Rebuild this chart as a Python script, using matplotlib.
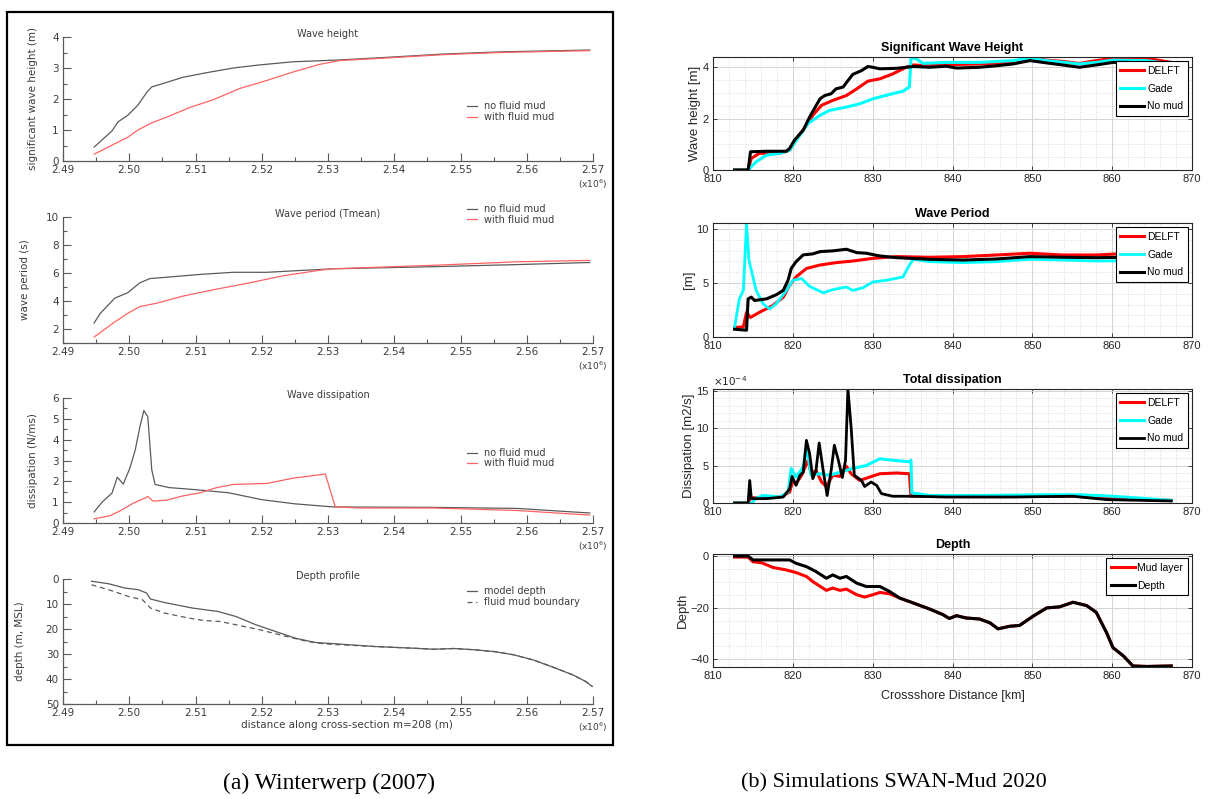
import numpy as np
import matplotlib
matplotlib.use("Agg")
import matplotlib.pyplot as plt
from matplotlib import font_manager
from matplotlib.patches import Rectangle
from matplotlib.ticker import MultipleLocator, FuncFormatter

# ---------------- (a) Winterwerp (2007): distance in units of 1e6 m ----------------
hs_x_nomud = np.array([2.4947, 2.4974, 2.4983, 2.4998, 2.5013, 2.5027, 2.5034, 2.5051, 2.5081,
                       2.5117, 2.5157, 2.5197, 2.5247, 2.5318, 2.5394, 2.5474, 2.5560, 2.5695]) * 1e6
hs_nomud = [0.45, 0.97, 1.26, 1.48, 1.80, 2.23, 2.39, 2.50, 2.70,
            2.85, 3.00, 3.10, 3.20, 3.26, 3.35, 3.45, 3.52, 3.58]
hs_x_mud = np.array([2.4947, 2.4971, 2.4998, 2.5013, 2.5034, 2.5057, 2.5092, 2.5126, 2.5167,
                     2.5208, 2.5247, 2.5288, 2.5318, 2.5394, 2.5474, 2.5560, 2.5695]) * 1e6
hs_mud = [0.22, 0.48, 0.77, 1.00, 1.23, 1.42, 1.73, 1.97, 2.34,
          2.60, 2.87, 3.12, 3.24, 3.33, 3.43, 3.50, 3.56]

tp_x_nomud = np.array([2.4947, 2.4956, 2.4978, 2.4998, 2.5016, 2.5031, 2.5057, 2.5107, 2.5157,
                       2.5208, 2.5258, 2.5308, 2.5459, 2.5585, 2.5695]) * 1e6
tp_nomud = [2.43, 3.10, 4.20, 4.60, 5.30, 5.60, 5.70, 5.90, 6.05, 6.05, 6.18, 6.30, 6.45, 6.60, 6.75]
tp_x_mud = np.array([2.4947, 2.4975, 2.4997, 2.5016, 2.5042, 2.5081, 2.5132, 2.5182, 2.5232,
                     2.5288, 2.5308, 2.5459, 2.5585, 2.5695]) * 1e6
tp_mud = [1.43, 2.40, 3.10, 3.60, 3.85, 4.35, 4.85, 5.30, 5.80, 6.20, 6.30, 6.55, 6.80, 6.90]

ds_x_nomud = np.array([2.4947, 2.4959, 2.4974, 2.4982, 2.4991, 2.5001, 2.5009, 2.5016, 2.5022,
                       2.5028, 2.5034, 2.5039, 2.5060, 2.5100, 2.5150, 2.5200, 2.5250, 2.5308,
                       2.5459, 2.5585, 2.5695]) * 1e6
ds_nomud = [0.53, 1.00, 1.44, 2.20, 1.87, 2.64, 3.50, 4.60, 5.40, 5.10, 2.55, 1.85, 1.70, 1.60,
            1.45, 1.12, 0.92, 0.77, 0.75, 0.70, 0.48]
ds_x_mud = np.array([2.4947, 2.4971, 2.4986, 2.5006, 2.5022, 2.5028, 2.5036, 2.5057, 2.5081,
                     2.5107, 2.5132, 2.5157, 2.5208, 2.5247, 2.5296, 2.5311, 2.5349, 2.5459,
                     2.5585, 2.5695]) * 1e6
ds_mud = [0.20, 0.35, 0.58, 0.95, 1.17, 1.27, 1.05, 1.10, 1.30, 1.45, 1.70, 1.85, 1.90, 2.15,
          2.35, 0.77, 0.72, 0.72, 0.60, 0.38]

dp_x = np.array([2.4943, 2.4969, 2.4993, 2.5014, 2.5026, 2.5032, 2.5053, 2.5095, 2.5134, 2.5161,
                 2.5191, 2.5221, 2.5251, 2.5281, 2.5311, 2.5370, 2.5430, 2.5460, 2.5490, 2.5520,
                 2.5550, 2.5580, 2.5610, 2.5640, 2.5670, 2.5689, 2.5699]) * 1e6
dp_model = [0.9, 1.9, 3.6, 4.3, 5.6, 8.0, 9.4, 11.6, 13.0, 15.0, 18.3, 21.0, 23.7, 25.4, 25.9,
            27.0, 27.7, 28.1, 27.8, 28.3, 29.0, 30.3, 32.4, 35.3, 38.4, 41.0, 43.0]
dp_x_mud = np.array([2.4943, 2.4969, 2.4999, 2.5020, 2.5032, 2.5053, 2.5089, 2.5113, 2.5137,
                     2.5161, 2.5197, 2.5233, 2.5269, 2.5293, 2.5311]) * 1e6
dp_mud = [2.3, 4.3, 7.0, 8.3, 11.6, 13.6, 15.6, 16.6, 17.0, 18.3, 20.3, 22.7, 25.0, 25.9, 26.2]

# ---------------- (b) SWAN-Mud 2020: crosshore distance in km ----------------
hs_km_nomud = [812.7, 814.4, 814.7, 816.7, 819.2, 819.6, 820.2, 821.3, 822.1, 822.7, 823.4, 824.0,
               824.8, 825.4, 826.3, 826.9, 827.5, 828.6, 829.4, 830.0, 830.9, 833.0, 835.1, 837.1,
               839.2, 840.5, 843.4, 845.5, 847.6, 849.7, 851.8, 853.8, 855.9, 858.0, 860.1, 862.2,
               867.4]
hs_b_nomud = [0, 0, 0.71, 0.73, 0.73, 0.84, 1.16, 1.55, 2.06, 2.39, 2.77, 2.90, 2.97, 3.16, 3.23,
              3.48, 3.72, 3.87, 4.03, 4.00, 3.94, 3.96, 4.03, 4.00, 4.04, 3.97, 4.00, 4.06, 4.13,
              4.26, 4.17, 4.09, 4.00, 4.09, 4.19, 4.19, 4.09]
hs_km_delft = [812.7, 814.4, 814.8, 815.8, 818.4, 819.6, 820.4, 821.7, 822.5, 823.6, 825.0, 826.7,
               828.0, 829.4, 830.9, 832.5, 834.2, 835.1, 837.1, 839.2, 843.4, 847.6, 849.7, 851.8,
               853.8, 855.9, 858.0, 860.1, 864.3, 867.4]
hs_b_delft = [0, 0, 0.45, 0.65, 0.65, 0.77, 1.19, 1.74, 2.13, 2.52, 2.71, 2.90, 3.16, 3.46, 3.55,
              3.74, 4.00, 4.09, 4.06, 4.10, 4.13, 4.19, 4.36, 4.28, 4.23, 4.15, 4.26, 4.35, 4.35,
              4.19]
hs_km_gade = [812.7, 814.4, 815.4, 816.7, 818.4, 819.6, 820.6, 821.9, 823.4, 824.6, 826.7, 828.4,
              830.0, 832.1, 833.8, 834.6, 834.8, 835.5, 836.3, 839.2, 843.4, 847.6, 849.7, 851.8,
              855.9, 858.0, 860.1, 864.3, 867.4]
hs_b_gade = [0, 0, 0.32, 0.58, 0.65, 0.77, 1.23, 1.81, 2.13, 2.32, 2.45, 2.58, 2.77, 2.94, 3.07,
             3.23, 4.39, 4.32, 4.15, 4.19, 4.19, 4.26, 4.35, 4.26, 4.13, 4.19, 4.28, 4.26, 4.13]

tp_km_nomud = [812.7, 814.2, 814.4, 814.8, 815.2, 816.7, 817.9, 818.8, 819.4, 819.8, 820.4, 821.3,
               822.5, 823.4, 825.0, 826.7, 828.0, 829.2, 830.9, 833.0, 837.1, 841.3, 845.5, 849.7,
               853.8, 858.0, 862.2, 867.4]
tp_b_nomud = [0.72, 0.63, 3.53, 3.69, 3.38, 3.53, 3.90, 4.31, 5.25, 6.34, 6.97, 7.60, 7.69, 7.90,
              7.97, 8.12, 7.81, 7.75, 7.50, 7.34, 7.19, 7.12, 7.22, 7.44, 7.38, 7.34, 7.38, 7.40]
tp_km_delft = [812.7, 813.8, 814.2, 814.7, 815.8, 817.5, 818.8, 819.6, 820.4, 821.7, 823.4, 825.4,
               827.5, 830.0, 833.0, 837.1, 841.3, 845.5, 849.7, 853.8, 858.0, 862.2, 867.4]
tp_b_delft = [0.88, 0.94, 2.28, 1.81, 2.28, 2.91, 3.69, 4.78, 5.56, 6.34, 6.66, 6.88, 7.03, 7.28,
              7.44, 7.38, 7.44, 7.59, 7.75, 7.59, 7.59, 7.75, 7.75]
tp_km_gade = [812.7, 813.3, 813.8, 814.2, 814.5, 814.8, 815.4, 816.3, 817.1, 817.9, 819.2, 820.0,
              821.1, 822.1, 823.8, 825.0, 826.7, 827.5, 828.8, 830.0, 831.7, 833.8, 834.6, 835.1,
              837.1, 841.3, 845.5, 849.7, 853.8, 858.0, 862.2, 867.4]
tp_b_gade = [0.88, 3.53, 4.31, 10.5, 7.12, 6.19, 4.31, 3.06, 2.59, 3.06, 4.31, 5.25, 5.41, 4.69,
             4.09, 4.38, 4.63, 4.31, 4.56, 5.09, 5.25, 5.56, 6.66, 7.19, 6.97, 6.88, 6.97, 7.19,
             7.12, 7.03, 7.06, 7.00]

# total dissipation in m2/s
ds_km_nomud = [812.7, 814.4, 814.6, 814.8, 816.7, 818.8, 819.6, 819.9, 820.4, 820.9, 821.3, 821.7,
               822.1, 822.5, 822.9, 823.3, 823.8, 824.3, 824.8, 825.2, 825.7, 826.2, 826.6, 826.9,
               827.3, 827.7, 828.6, 829.0, 829.8, 830.5, 831.1, 832.5, 835.1, 839.2, 847.6, 855.1,
               859.3, 867.4]
ds_b_nomud = np.array([0, 0, 3.0, 0.58, 0.58, 0.8, 1.9, 3.55, 2.35, 3.7, 4.1, 8.35, 6.6, 3.25,
                       4.35, 8.0, 4.35, 1.0, 4.35, 7.7, 5.7, 3.4, 5.7, 15.2, 10.1, 3.7, 3.0, 2.2,
                       2.8, 2.35, 1.25, 0.9, 0.9, 0.8, 0.8, 0.9, 0.45, 0.27]) * 1e-4
ds_km_delft = [812.7, 814.4, 814.7, 815.4, 818.4, 819.6, 820.0, 820.4, 821.1, 821.9, 822.3, 822.9,
               823.6, 824.2, 825.0, 825.9, 826.7, 827.3, 828.4, 829.6, 830.9, 833.0, 834.6, 834.8,
               839.2, 847.6, 855.1, 860.0, 867.4]
ds_b_delft = np.array([0, 0, 0.7, 0.7, 0.8, 1.45, 3.0, 2.6, 3.7, 5.7, 3.9, 4.35, 2.8, 2.2, 3.7,
                       3.55, 4.9, 3.9, 3.0, 3.45, 3.9, 4.0, 3.9, 0.9, 0.85, 0.85, 0.9, 0.6,
                       0.35]) * 1e-4
ds_km_gade = [812.7, 814.9, 815.3, 816.3, 818.4, 819.4, 819.8, 820.4, 821.3, 821.7, 822.3, 823.4,
              824.6, 825.9, 827.5, 829.2, 830.9, 832.5, 834.6, 834.8, 834.9, 837.1, 843.4, 851.8,
              855.9, 860.1, 867.4]
ds_b_gade = np.array([0, 0, 0.6, 1.0, 0.8, 1.45, 4.6, 3.45, 4.8, 7.5, 3.7, 3.9, 3.7, 4.1, 4.6,
                      5.0, 5.9, 5.7, 5.5, 5.7, 1.35, 1.0, 1.0, 1.1, 1.1, 0.9, 0.35]) * 1e-4

dp_km = np.array([812.7, 814.4, 815.0, 816.7, 819.6, 820.4, 821.7, 822.9, 824.2, 825.0, 825.9,
                  826.7, 828.0, 829.2, 830.9, 832.1, 833.4, 835.1, 837.1, 838.8, 839.6, 840.5,
                  841.7, 843.4, 844.7, 845.7, 847.2, 848.4, 850.1, 851.8, 853.4, 855.1, 856.8,
                  858.0, 859.3, 860.1, 861.4, 862.6, 864.3, 867.4])
dp_depth = np.array([0, 0, -1.5, -1.5, -1.5, -2.8, -4.1, -6.0, -8.6, -7.3, -8.6, -7.9, -10.5,
                     -11.8, -11.8, -13.7, -16.3, -18.2, -20.5, -22.7, -24.2, -23.1, -24.0, -24.4,
                     -25.9, -28.2, -27.2, -26.9, -23.3, -20.1, -19.7, -17.9, -19.2, -21.8, -29.7,
                     -35.5, -38.7, -42.6, -42.8, -42.6])
dp_km_mud = np.array([812.7, 814.4, 815.0, 816.1, 817.5, 819.2, 820.4, 821.7, 822.5, 824.2, 825.0,
                      825.9, 826.7, 828.0, 829.0, 830.0, 830.9, 832.1, 833.4, 835.1])
dp_mudlayer = np.array([-0.4, -0.4, -2.2, -2.6, -4.4, -5.4, -6.4, -7.9, -9.9, -13.3, -12.4,
                        -13.3, -12.8, -15.0, -15.9, -15.0, -14.1, -14.6, -16.3, -18.2])

# seaward of 835 km the mud layer lies on the bed
tail = dp_km > dp_km_mud[-1]
dp_km_mud = np.concatenate([dp_km_mud, dp_km[tail]])
dp_mudlayer = np.concatenate([dp_mudlayer, dp_depth[tail]])
# the fluid mud boundary merges with the model depth beyond 2.531e6 m
tail_a = dp_x > dp_x_mud[-1]
dp_x_mud = np.concatenate([dp_x_mud, dp_x[tail_a]])
dp_mud = np.concatenate([dp_mud, np.array(dp_model)[tail_a]])

names = {f.name for f in font_manager.fontManager.ttflist}
SANS = "Liberation Sans Narrow" if "Liberation Sans Narrow" in names else "Liberation Sans"
SERIF = "Liberation Serif"

GRAY_TXT = "#3c3c3c"
GRAY_LINE = "#5a5a5a"
RED_LINE = "#ff6262"

W, H = 1211, 799
fig = plt.figure(figsize=(W / 100, H / 100), dpi=100)


def px_axes(x0, y0, x1, y1):
    return fig.add_axes([x0 / W, 1 - y1 / H, (x1 - x0) / W, (y1 - y0) / H])


def style_left(ax, ylim, major, minor, ylabel, title, label_x):
    ax.set_xlim(2.49e6, 2.57e6)
    ax.set_ylim(*ylim)
    for s in ("top", "right"):
        ax.spines[s].set_visible(False)
    for s in ("left", "bottom"):
        ax.spines[s].set_color(GRAY_LINE)
        ax.spines[s].set_linewidth(0.9)
    ax.xaxis.set_major_locator(MultipleLocator(1e4))
    ax.xaxis.set_minor_locator(MultipleLocator(5e3))
    ax.xaxis.set_major_formatter(FuncFormatter(lambda v, p: f"{v / 1e6:.2f}"))
    ax.yaxis.set_major_locator(MultipleLocator(major))
    ax.yaxis.set_minor_locator(MultipleLocator(minor))
    ax.tick_params(which="both", direction="in", color=GRAY_LINE, labelcolor=GRAY_TXT,
                   labelsize=7.5, width=0.8)
    ax.tick_params(which="major", length=6, pad=3)
    ax.tick_params(which="minor", length=3)
    ax.set_ylabel(ylabel, fontsize=7.5, color=GRAY_TXT)
    ax.yaxis.set_label_coords(label_x, 0.5)
    ax.text(0.5, 1.025, title, transform=ax.transAxes, ha="center", va="center",
            fontsize=7, color=GRAY_TXT)
    ax.annotate("(x10$^6$)", xy=(1, 0), xycoords="axes fraction", xytext=(0, -12),
                textcoords="offset points", ha="center", va="top", fontsize=6.5,
                color=GRAY_TXT)


def left_legend(ax, anchor, labels):
    leg = ax.legend(labels, loc="upper left", bbox_to_anchor=anchor, frameon=False,
                    fontsize=7, handlelength=1.0, handletextpad=0.7, labelspacing=0.05,
                    borderpad=0, borderaxespad=0)
    for t in leg.get_texts():
        t.set_color(GRAY_TXT)


# ---- panel (a) ----
a1 = px_axes(63, 37, 593, 161)
a1.plot(hs_x_nomud, hs_nomud, color=GRAY_LINE, lw=0.9)
a1.plot(hs_x_mud, hs_mud, color=RED_LINE, lw=0.9)
style_left(a1, (0, 4), 1, 0.5, "significant wave height (m)", "Wave height", -0.047)
left_legend(a1, (0.763, 0.48), ["no fluid mud", "with fluid mud"])

a2 = px_axes(63, 217, 593, 343)
a2.plot(tp_x_nomud, tp_nomud, color=GRAY_LINE, lw=0.9)
a2.plot(tp_x_mud, tp_mud, color=RED_LINE, lw=0.9)
style_left(a2, (1, 10), 2, 1, "wave period (s)", "Wave period (Tmean)", -0.062)
left_legend(a2, (0.763, 1.10), ["no fluid mud", "with fluid mud"])

a3 = px_axes(63, 398, 593, 523)
a3.plot(ds_x_nomud, ds_nomud, color=GRAY_LINE, lw=0.9)
a3.plot(ds_x_mud, ds_mud, color=RED_LINE, lw=0.9)
style_left(a3, (0, 6), 1, 0.5, "dissipation (N/ms)", "Wave dissipation", -0.047)
left_legend(a3, (0.763, 0.60), ["no fluid mud", "with fluid mud"])

a4 = px_axes(63, 579, 593, 704)
a4.plot(dp_x, dp_model, color=GRAY_LINE, lw=0.9)
a4.plot(dp_x_mud, dp_mud, color=GRAY_LINE, lw=0.9, ls=(0, (4, 3)))
style_left(a4, (50, 0), 10, 5, "depth (m, MSL)", "Depth profile", -0.072)
a4.set_xlabel("distance along cross-section m=208 (m)", fontsize=7.5, color=GRAY_TXT)
a4.xaxis.set_label_coords(0.535, -0.13)
left_legend(a4, (0.763, 0.94), ["model depth", "fluid mud boundary"])

fig.add_artist(Rectangle((7 / W, 1 - 745 / H), 606 / W, 733 / H, transform=fig.transFigure,
                         fill=False, lw=1.6, ec="black"))

# ---- panel (b) ----
COLORS = {"DELFT": "#ff0000", "Gade": "#00ffff", "No mud": "#000000"}


def style_right(ax, ylim, major, minor, ylabel, title):
    ax.set_xlim(810, 870)
    ax.set_ylim(*ylim)
    ax.xaxis.set_major_locator(MultipleLocator(10))
    ax.xaxis.set_minor_locator(MultipleLocator(2))
    ax.yaxis.set_major_locator(MultipleLocator(major))
    ax.yaxis.set_minor_locator(MultipleLocator(minor))
    ax.set_axisbelow(True)
    ax.grid(which="major", color="#d4d4d4", lw=0.7)
    ax.grid(which="minor", color="#d0d0d0", lw=0.6, ls=(0, (1, 2)))
    ax.tick_params(which="both", direction="in", top=True, right=True, labelsize=8,
                   labelcolor="#262626", color="#262626", width=0.6)
    ax.tick_params(which="major", length=3, pad=3)
    ax.tick_params(which="minor", length=0)
    for s in ax.spines.values():
        s.set_linewidth(0.8)
        s.set_color("#262626")
    for lab in ax.get_xticklabels() + ax.get_yticklabels():
        lab.set_family(SANS)
    ax.set_ylabel(ylabel, fontsize=9.5, family=SANS, color="#262626", labelpad=1)
    ax.set_title(title, fontsize=9, fontweight="bold", family=SANS, pad=4)


def right_legend(ax):
    leg = ax.legend(loc="upper right", fancybox=False, edgecolor="black", framealpha=1,
                    prop={"family": SANS, "size": 7.5}, handlelength=2.3, handletextpad=0.25,
                    labelspacing=0.75, borderpad=0.45, borderaxespad=0.4)
    leg.get_frame().set_linewidth(0.8)


b1 = px_axes(713, 57, 1192, 170)
b1.plot(hs_km_delft, hs_b_delft, color=COLORS["DELFT"], lw=2.2, label="DELFT")
b1.plot(hs_km_gade, hs_b_gade, color=COLORS["Gade"], lw=2.2, label="Gade")
b1.plot(hs_km_nomud, hs_b_nomud, color=COLORS["No mud"], lw=2.2, label="No mud")
style_right(b1, (0, 4.4), 2, 0.5, "Wave height [m]", "Significant Wave Height")
right_legend(b1)

b2 = px_axes(713, 223, 1192, 337)
b2.plot(tp_km_delft, tp_b_delft, color=COLORS["DELFT"], lw=2.2, label="DELFT")
b2.plot(tp_km_gade, tp_b_gade, color=COLORS["Gade"], lw=2.0, label="Gade")
b2.plot(tp_km_nomud, tp_b_nomud, color=COLORS["No mud"], lw=2.2, label="No mud")
style_right(b2, (0, 10.55), 5, 1, "[m]", "Wave Period")
right_legend(b2)

b3 = px_axes(713, 389, 1192, 503)
b3.plot(ds_km_delft, ds_b_delft, color=COLORS["DELFT"], lw=2.2, label="DELFT")
b3.plot(ds_km_gade, ds_b_gade, color=COLORS["Gade"], lw=2.2, label="Gade")
b3.plot(ds_km_nomud, ds_b_nomud, color=COLORS["No mud"], lw=2.0, label="No mud")
style_right(b3, (0, 15.2e-4), 5e-4, 1e-4, "Dissipation [m2/s]", "Total dissipation")
b3.yaxis.set_major_formatter(FuncFormatter(lambda v, p: f"{v * 1e4:.0f}"))
for lab in b3.get_yticklabels():
    lab.set_family(SANS)
b3.text(0.0, 1.01, r"$\times10^{-4}$", transform=b3.transAxes, ha="left", va="bottom",
        fontsize=7.5, color="#262626")
right_legend(b3)

b4 = px_axes(713, 554, 1192, 667)
b4.plot(dp_km_mud, dp_mudlayer, color=COLORS["DELFT"], lw=2.2, label="Mud layer")
b4.plot(dp_km, dp_depth, color=COLORS["No mud"], lw=2.2, label="Depth")
style_right(b4, (-43, 0.8), 20, 5, "Depth", "Depth")
b4.set_xlabel("Crossshore Distance [km]", fontsize=9, family=SANS, color="#262626", labelpad=6)
right_legend(b4)

# ---- captions ----
fig.text(329 / W, 1 - 783 / H, "(a) Winterwerp (2007)", ha="center", va="center",
         family=SERIF, fontsize=17)
fig.text(894 / W, 1 - 783 / H, "(b) Simulations SWAN-Mud 2020", ha="center", va="center",
         family=SERIF, fontsize=16)

fig.savefig("out.png", dpi=100)
